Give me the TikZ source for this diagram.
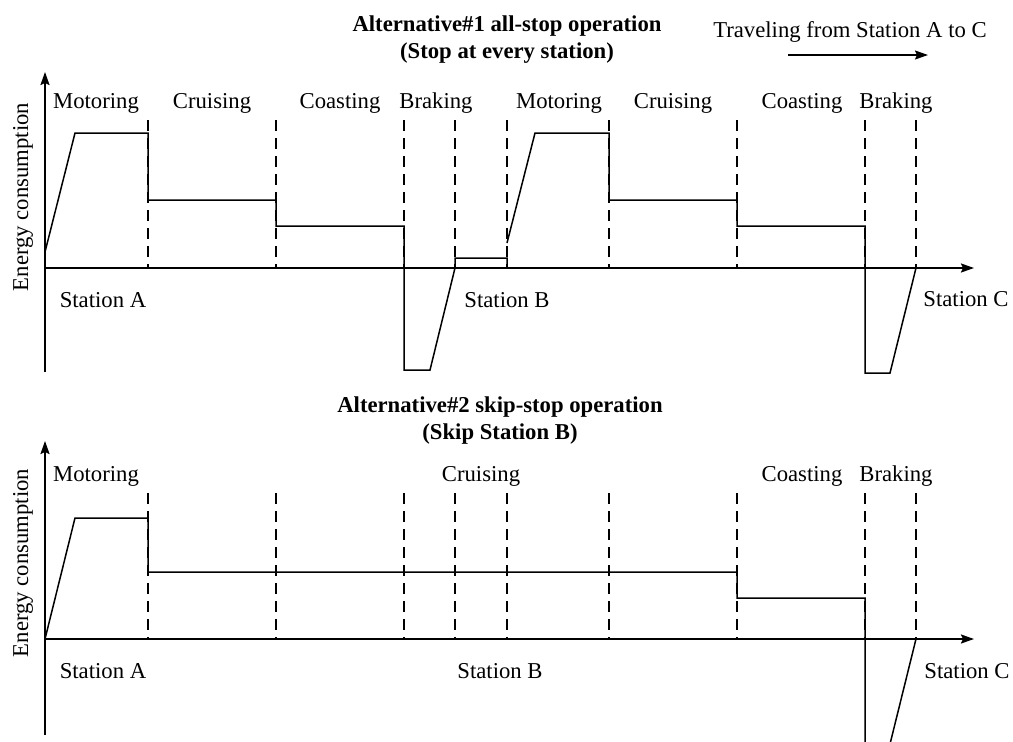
\documentclass[tikz,border=0pt]{standalone}
\usepackage{fontspec}
\setmainfont{Liberation Serif}
\usetikzlibrary{arrows.meta}
\tikzset{every node/.style={font=\fontsize{22.7}{27}\selectfont, inner sep=0pt}}

\begin{document}
\begin{tikzpicture}[x=1pt, y=-1pt, >={Stealth[length=13pt, width=9pt, inset=2pt]},
    axis/.style={line width=1.8pt, axiscol},
    phase/.style={line width=1.4pt, dash pattern=on 11pt off 7pt, axiscol},
    profile/.style={line width=1.5pt, datacol, line join=miter},
    lbl/.style={anchor=base},
    ttl/.style={anchor=base, align=center, font=\fontsize{22.7}{27}\selectfont\bfseries}]
  % Bounding box fixe (taille originale)
  \path[use as bounding box] (0,0) rectangle (1013,742);

  % Colors.
  \colorlet{axiscol}{black}
  \colorlet{datacol}{black}

  % Travel direction.
  \node[lbl] (travel) at (850,37) {Traveling from Station A to C};
  \coordinate (travelA) at (788,55);
  \coordinate (travelB) at (928,55);
  \draw[->, line width=1.6pt] (travelA) -- (travelB);

  % ---------------- Alternative 1 ----------------
  % (base = last line)
  \node[ttl] (title1) at (507,58) {Alternative\#1 all-stop operation\\(Stop at every station)};

  % Axes.
  \coordinate (O1) at (45,268);
  \coordinate (Y1top) at (45,72);
  \coordinate (Y1bot) at (45,372);
  \coordinate (X1end) at (974,268);
  \draw[axis, ->] (Y1bot) -- (Y1top);
  \draw[axis, ->] (O1) -- (X1end);
  \node[rotate=90, anchor=base] (ylab1) at (28,197) {Energy consumption};

  % Phase boundaries.
  \foreach \x in {148,276,404,455,507,609,737,865,916}
    \draw[phase] (\x,120) -- (\x,268);

  % Energy profile A -> B.
  \draw[profile] (45,252) -- (75,133) -- (148,133) -- (148,200) -- (276,200)
    -- (276,226) -- (404,226) -- (404,370) -- (430,370) -- (455,268)
    -- (455,258) -- (507,258) -- (507,268);
  % Energy profile B -> C.
  \draw[profile] (507,243) -- (535,133) -- (609,133) -- (609,200) -- (737,200)
    -- (737,226) -- (865,226) -- (865,373) -- (890,373) -- (916,268);

  % Phase labels.
  \node[lbl] (mot1a) at (96,108) {Motoring};
  \node[lbl] (cru1a) at (212,108) {Cruising};
  \node[lbl] (coa1a) at (340,108) {Coasting};
  \node[lbl] (bra1a) at (436,108) {Braking};
  \node[lbl] (mot1b) at (559,108) {Motoring};
  \node[lbl] (cru1b) at (673,108) {Cruising};
  \node[lbl] (coa1b) at (802,108) {Coasting};
  \node[lbl] (bra1b) at (896,108) {Braking};

  % Stations.
  \node[lbl] (stA1) at (103,307) {Station A};
  \node[lbl] (stB1) at (507,307) {Station B};
  \node[lbl] (stC1) at (966,306) {Station C};

  % ---------------- Alternative 2 ----------------
  \node[ttl] (title2) at (500,439) {Alternative\#2 skip-stop operation\\(Skip Station B)};

  % Axes.
  \coordinate (O2) at (45,639);
  \coordinate (Y2top) at (45,441);
  \coordinate (Y2bot) at (45,735);
  \coordinate (X2end) at (974,639);
  \draw[axis, ->] (Y2bot) -- (Y2top);
  \draw[axis, ->] (O2) -- (X2end);
  \node[rotate=90, anchor=base] (ylab2) at (28,563) {Energy consumption};

  % Phase boundaries.
  \foreach \x in {148,276,404,455,507,609,737,865,916}
    \draw[phase] (\x,493) -- (\x,639);

  % Energy profile A -> C, cut by the frame.
  \begin{scope}
    \clip (0,0) rectangle (1013,742);
    \draw[profile] (O2) -- (75,518) -- (148,518) -- (148,572) -- (737,572)
      -- (737,598) -- (865,598) -- (865,744) -- (890,744) -- (916,639);
  \end{scope}

  % Phase labels.
  \node[lbl] (mot2) at (96,481) {Motoring};
  \node[lbl] (cru2) at (481,481) {Cruising};
  \node[lbl] (coa2) at (802,481) {Coasting};
  \node[lbl] (bra2) at (896,481) {Braking};

  % Stations.
  \node[lbl] (stA2) at (103,678) {Station A};
  \node[lbl] (stB2) at (500,678) {Station B};
  \node[lbl] (stC2) at (967,678) {Station C};
\end{tikzpicture}
\end{document}
